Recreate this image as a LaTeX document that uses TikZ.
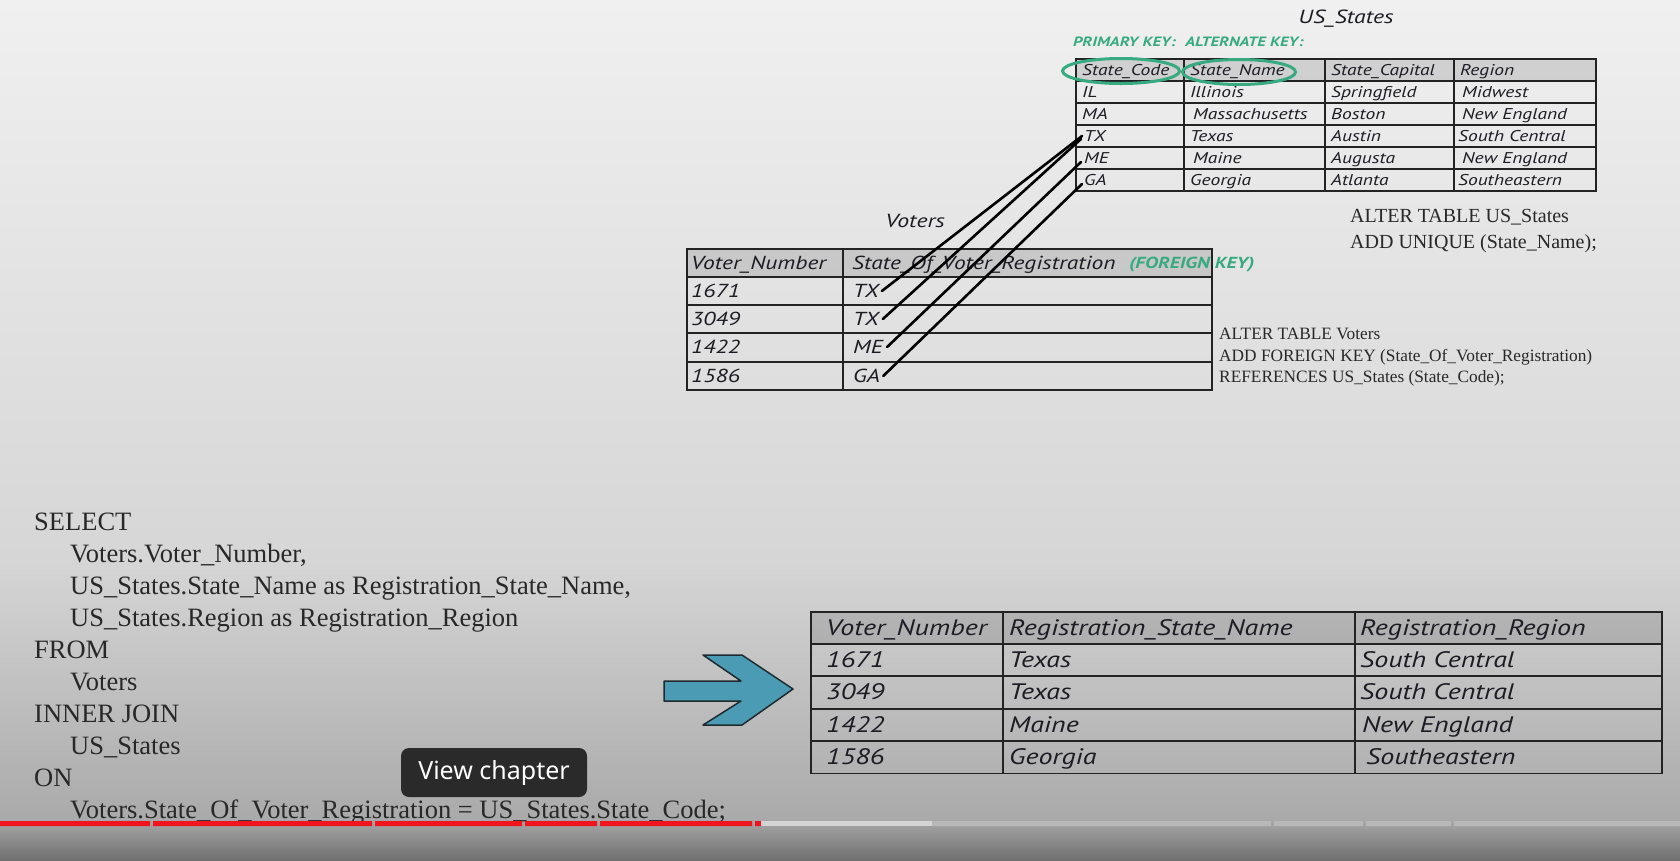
\documentclass[tikz,border=0pt]{standalone}
\usepackage{fontspec}
\setmainfont{Liberation Serif}
\newfontfamily\handfont[FakeStretch=1.25]{PT Sans}
\newfontfamily\uifont{Noto Sans}
\usetikzlibrary{arrows.meta,positioning,shapes.geometric}
\definecolor{keygreen}{RGB}{55,170,128}
\definecolor{arrowteal}{RGB}{74,155,179}
\definecolor{arrowedge}{RGB}{30,42,48}
\definecolor{rulegray}{RGB}{35,35,35}
\definecolor{inkblack}{RGB}{28,28,36}
\definecolor{sqlgray}{RGB}{40,40,40}
\definecolor{bgtop}{RGB}{240,240,240}
\definecolor{bgmid}{RGB}{214,214,214}
\definecolor{bglow}{RGB}{170,170,170}
\definecolor{bgbot}{RGB}{112,112,112}
\definecolor{tipdark}{RGB}{42,42,42}
\definecolor{barred}{RGB}{240,20,30}
\definecolor{barlight}{RGB}{212,212,212}
\definecolor{bargray}{RGB}{184,184,184}
\tikzset{
  % Base styles
  slide base/.style={
    x=1pt, y=-1pt,
    every node/.style={inner sep=0pt},
  },
  % Table cells (handwritten look)
  small cell/.style={anchor=west, text=inkblack, text height=15pt, text depth=4pt,
    font=\handfont\itshape\fontsize{15.6}{15.6}\selectfont},
  mid cell/.style={anchor=west, text=inkblack, text height=18pt, text depth=4.7pt,
    font=\handfont\itshape\fontsize{18.8}{18.8}\selectfont},
  big cell/.style={anchor=west, text=inkblack, text height=21pt, text depth=5.5pt,
    font=\handfont\itshape\fontsize{22.4}{22.4}\selectfont},
  table title/.style={text=inkblack, font=\handfont\itshape\fontsize{19}{19}\selectfont},
  table rule/.style={draw=rulegray, line width=1.5pt},
  header shade/.style={fill=black, fill opacity=0.12},
  % Keys
  key ring/.style={ellipse, draw=keygreen, line width=3pt, minimum height=25pt},
  key label/.style={anchor=west, text=keygreen, font=\handfont\bfseries\itshape\fontsize{13.5}{13.5}\selectfont},
  fk link/.style={draw=black, line width=2.6pt, line cap=round},
  % SQL text
  sql block/.style={anchor=base west, align=left, text=sqlgray},
  result arrow/.style={fill=arrowteal, draw=arrowedge, line width=1.5pt, line join=round},
  chapter tip/.style={fill=tipdark, rounded corners=8pt, text=white, minimum width=186pt,
    minimum height=49pt, font=\uifont\fontsize{25}{25}\selectfont},
}

\begin{document}
\begin{tikzpicture}[slide base]
\useasboundingbox (0,0) rectangle (1680,860);
% Background
\fill[top color=bgtop, bottom color=bgmid] (0,0) rectangle (1680,560);
\fill[top color=bgmid, bottom color=bglow] (0,560) rectangle (1680,818);
\fill[top color=bglow, bottom color=bgbot] (0,818) rectangle (1680,860);

% US_States table
\node[table title] (usTitle) at (1346,19) {US\_States};
\fill[header shade] (1076,59) rectangle (1596,81);
\draw[table rule] (1076,59) rectangle (1596,191);
\draw[table rule] (1076,81) -- (1596,81) (1076,103) -- (1596,103) (1076,125) -- (1596,125)
  (1076,147) -- (1596,147) (1076,169) -- (1596,169);
\draw[table rule] (1184,59) -- (1184,191) (1325,59) -- (1325,191) (1454,59) -- (1454,191);

\node[small cell] (sCode) at (1082,70) {State\_Code};
\node[small cell] (sName) at (1190,70) {State\_Name};
\node[small cell] (sCap) at (1331,70) {State\_Capital};
\node[small cell] (sReg) at (1460,70) {Region};
\node[small cell] (sIL) at (1082,92) {IL};
\node[small cell] at (1190,92) {Illinois};
\node[small cell] at (1331,92) {Springfield};
\node[small cell] at (1462,92) {Midwest};
\node[small cell] (sMA) at (1082,114) {MA};
\node[small cell] at (1193,114) {Massachusetts};
\node[small cell] at (1331,114) {Boston};
\node[small cell] at (1462,114) {New England};
\node[small cell] (sTX) at (1084,136) {TX};
\node[small cell] at (1190,136) {Texas};
\node[small cell] at (1331,136) {Austin};
\node[small cell] at (1458,136) {South Central};
\node[small cell] (sME) at (1084,158) {ME};
\node[small cell] at (1193,158) {Maine};
\node[small cell] at (1331,158) {Augusta};
\node[small cell] at (1462,158) {New England};
\node[small cell] (sGA) at (1084,180) {GA};
\node[small cell] at (1190,180) {Georgia};
\node[small cell] at (1331,180) {Atlanta};
\node[small cell] at (1458,180) {Southeastern};

% Key markers
\node[key label] (pkLabel) at (1073,42) {PRIMARY KEY:};
\node[key label, right=9pt of pkLabel] (akLabel) {ALTERNATE KEY:};
\node[key ring, minimum width=117pt] (pkRing) at (1121,71) {};
\node[key ring, minimum width=113pt] (akRing) at (1239,72) {};

\node[sql block, font=\fontsize{20}{26}\selectfont] (alterUS) at (1350,248.6)
  {ALTER TABLE US\_States\\ADD UNIQUE (State\_Name);};

% Voters table
\node[table title] (vTitle) at (915,221) {Voters};
\fill[header shade] (687,249) rectangle (1212,277);
\draw[table rule] (687,249) rectangle (1212,390);
\draw[table rule] (687,277) -- (1212,277) (687,305) -- (1212,305) (687,333) -- (1212,333)
  (687,362) -- (1212,362);
\draw[table rule] (843,249) -- (843,390);

\node[mid cell] (vNum) at (691,263) {Voter\_Number};
\node[mid cell] (vState) at (852,263) {State\_Of\_Voter\_Registration};
\node[key label, font=\handfont\bfseries\itshape\fontsize{16}{16}\selectfont] (fkLabel) at (1129,265) {(FOREIGN KEY)};
\node[mid cell] at (691,291) {1671};
\node[mid cell] (vTXa) at (853,291) {TX};
\node[mid cell] at (691,319) {3049};
\node[mid cell] (vTXb) at (853,319) {TX};
\node[mid cell] at (691,347) {1422};
\node[mid cell] (vME) at (853,347) {ME};
\node[mid cell] at (691,376) {1586};
\node[mid cell] (vGA) at (853,376) {GA};

\node[sql block, font=\fontsize{17.3}{21.5}\selectfont] (alterV) at (1219,382.7)
  {ALTER TABLE Voters\\ADD FOREIGN KEY (State\_Of\_Voter\_Registration)\\REFERENCES US\_States (State\_Code);};

% Foreign key links
\draw[fk link] ([xshift=3pt]vTXa.east) -- ([xshift=-2pt]sTX.west);
\draw[fk link] ([xshift=4pt]vTXb.east) -- ([xshift=-3pt,yshift=-3pt]sTX.west);
\draw[fk link] ([xshift=4pt]vME.east) -- ([xshift=-3pt,yshift=-4pt]sME.west);
\draw[fk link] ([xshift=3pt]vGA.east) -- ([xshift=-2pt,yshift=-4pt]sGA.west);

% Query
\node[sql block, font=\fontsize{26.5}{32.1}\selectfont] (query) at (34,818.9)
  {SELECT\\
  \hspace*{36pt}Voters.Voter\_Number,\\
  \hspace*{36pt}US\_States.State\_Name as Registration\_State\_Name,\\
  \hspace*{36pt}US\_States.Region as Registration\_Region\\
  FROM\\
  \hspace*{36pt}Voters\\
  INNER JOIN\\
  \hspace*{36pt}US\_States\\
  ON\\
  \hspace*{36pt}Voters.State\_Of\_Voter\_Registration = US\_States.State\_Code;};

% Arrow to result
\draw[result arrow] (664,681) -- (741,681) -- (703,655) -- (742,655) -- (793,689)
  -- (742,725) -- (703,725) -- (741,701) -- (664,701) -- cycle;

% Result table
\fill[header shade] (811,612) rectangle (1662,644);
\draw[table rule] (811,612) rectangle (1662,773.5);
\draw[table rule] (811,644) -- (1662,644) (811,676) -- (1662,676) (811,709) -- (1662,709)
  (811,741) -- (1662,741);
\draw[table rule] (1003,612) -- (1003,773.5) (1355,612) -- (1355,773.5);

\node[big cell] (rNum) at (826,628) {Voter\_Number};
\node[big cell] (rName) at (1009,628) {Registration\_State\_Name};
\node[big cell] (rReg) at (1360,628) {Registration\_Region};
\node[big cell] at (826,660) {1671};
\node[big cell] at (1009,660) {Texas};
\node[big cell] at (1360,660) {South Central};
\node[big cell] at (826,692) {3049};
\node[big cell] at (1009,692) {Texas};
\node[big cell] at (1360,692) {South Central};
\node[big cell] at (826,725) {1422};
\node[big cell] at (1009,725) {Maine};
\node[big cell] at (1362,725) {New England};
\node[big cell] at (826,757) {1586};
\node[big cell] at (1009,757) {Georgia};
\node[big cell] at (1366,757) {Southeastern};

% Player overlay
\node[chapter tip] (tip) at (494,772.5) {View chapter};
\fill[barred] (0,821) rectangle (150,826) (153,821) rectangle (372,826) (375,821) rectangle (522,826)
  (525,821) rectangle (597,826) (600,821) rectangle (752,826) (755,821) rectangle (761,826);
\fill[barlight] (761,821) rectangle (932,826);
\fill[bargray] (932,821) rectangle (1271,826) (1274,821) rectangle (1363,826)
  (1366,821) rectangle (1451,826) (1454,821) rectangle (1680,826);
\end{tikzpicture}
\end{document}
